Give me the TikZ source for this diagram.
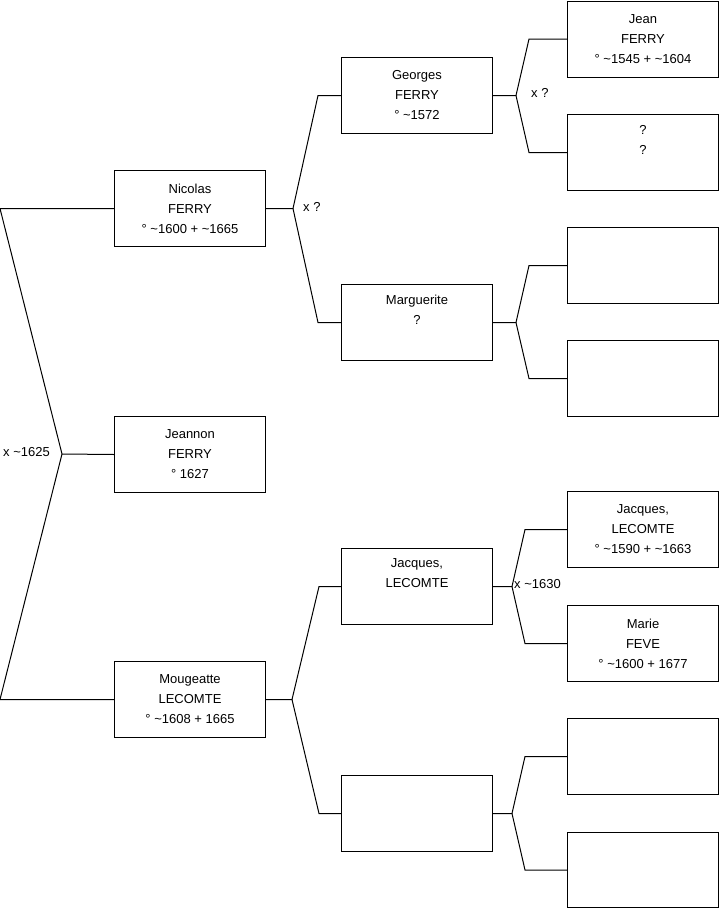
\documentclass[tikz,border=0pt]{standalone}
\usepackage{fontspec}
\setmainfont{Liberation Sans}
\newcommand{\tl}{\textasciitilde}
\begin{document}
\begin{tikzpicture}[x=1pt,y=-1pt,
  box/.style={draw=black, line width=1pt, minimum width=151pt, minimum height=76pt,
    inner sep=0pt, anchor=north west, align=center, font=\fontsize{13}{20}\selectfont},
  lbl/.style={anchor=west, inner sep=0pt, font=\fontsize{13}{16}\selectfont},
  conn/.style={draw=black, line width=1pt}]
\useasboundingbox (0,0) rectangle (719,908);
\coordinate (origin) at (0,0);
% column 1
\node[box] (A) at (114,170) {Nicolas\\FERRY\\° \tl1600 + \tl1665};
\node[box] (B) at (114,416) {Jeannon\\FERRY\\° 1627};
\node[box] (C) at (114,661) {Mougeatte\\LECOMTE\\° \tl1608 + 1665};
% column 2
\node[box] (D) at (341,57) {Georges\\FERRY\\° \tl1572};
\node[box] (E) at (341,284) {Marguerite\\?\\\strut};
\node[box] (F) at (341,548) {Jacques,\\LECOMTE\\\strut};
\node[box] (G) at (341,775) {};
% column 3
\node[box] (H) at (567,0.5) {Jean\\FERRY\\° \tl1545 + \tl1604};
\node[box] (I) at (567,114) {?\\?\\\strut};
\node[box] (J) at (567,227) {};
\node[box] (K) at (567,340) {};
\node[box] (L) at (567,491) {Jacques,\\LECOMTE\\° \tl1590 + \tl1663};
\node[box] (M) at (567,605) {Marie\\FEVE\\° \tl1600 + 1677};
\node[box] (N) at (567,718) {};
\node[box, minimum height=75pt] (O) at (567,832) {};
% left bracket
\coordinate (lv) at (62,454);
\draw[conn] (A.west) -- (A.west -| origin) -- (lv) -- (C.west -| origin) -- (C.west);
\draw[conn] (lv) -- (B.west);
% forks
\draw[conn] (A.east) -- ++(27,0) coordinate (fa) -- ([xshift=-23pt]D.west) -- (D.west);
\draw[conn] (fa) -- ([xshift=-23pt]E.west) -- (E.west);
\draw[conn] (C.east) -- ++(26,0) coordinate (fc) -- ([xshift=-22pt]F.west) -- (F.west);
\draw[conn] (fc) -- ([xshift=-22pt]G.west) -- (G.west);
\draw[conn] (D.east) -- ++(23,0) coordinate (fd) -- ([xshift=-38pt]H.west) -- (H.west);
\draw[conn] (fd) -- ([xshift=-38pt]I.west) -- (I.west);
\draw[conn] (E.east) -- ++(23,0) coordinate (fe) -- ([xshift=-38pt]J.west) -- (J.west);
\draw[conn] (fe) -- ([xshift=-38pt]K.west) -- (K.west);
\draw[conn] (F.east) -- ++(19,0) coordinate (ff) -- ([xshift=-42pt]L.west) -- (L.west);
\draw[conn] (ff) -- ([xshift=-42pt]M.west) -- (M.west);
\draw[conn] (G.east) -- ++(19,0) coordinate (fg) -- ([xshift=-42pt]N.west) -- (N.west);
\draw[conn] (fg) -- ([xshift=-42pt]O.west) -- (O.west);
% labels
\node[lbl] (x1) at (3,452) {x \tl1625};
\node[lbl] (x2) at (303,207) {x ?};
\node[lbl] (x3) at (531,93) {x ?};
\node[lbl] (x4) at (514,584) {x \tl1630};
\end{tikzpicture}
\end{document}
